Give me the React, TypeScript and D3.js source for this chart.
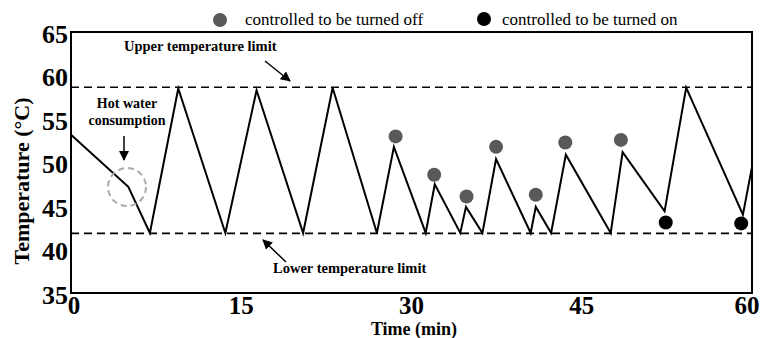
import React from "react";
import * as d3 from "d3";

// temperature trace (min, °C)
const times = [0, 5.05, 6.95, 9.45, 13.6, 16.35, 20.45, 23.05, 26.95, 28.45, 31.25, 32.05, 34.3, 34.8, 36.25, 37.45, 40.5, 40.95, 42.3, 43.6, 47.55, 48.6, 52.3, 54.2, 59.2, 60];
const temps = [53.2, 47.2, 41.9, 58.5, 41.9, 58.3, 41.9, 58.6, 41.9, 51.8, 41.9, 47.5, 41.9, 44.9, 41.9, 50.4, 41.9, 44.9, 41.9, 50.9, 41.9, 51.2, 44.4, 58.6, 44.0, 49.5];

// controlled to be turned off (gray) / on (black)
const offTimes = [28.6, 32.0, 34.85, 37.45, 40.95, 43.55, 48.45];
const offTemps = [53.0, 48.6, 46.1, 51.8, 46.3, 52.3, 52.6];
const onTimes = [52.4, 59.05];
const onTemps = [43.1, 43.0];

const upperLimit = 58.65;
const lowerLimit = 41.85;

const xTicks = [0, 15, 30, 45, 60];
const yTicks = [35, 40, 45, 50, 55, 60, 65];

const W = 764, H = 338;
const M = { left: 71, right: 12, top: 32, bottom: 45 };
const FONT = "'Liberation Serif', 'DejaVu Serif', serif";

export default function App() {
  const x = d3.scaleLinear().domain([0, 60]).range([M.left, W - M.right]);
  const y = d3.scaleLinear().domain([35, 65]).range([H - M.bottom, M.top]);

  const line = d3.line<number>().x((d, i) => x(times[i])).y(d => y(d));

  return (
    <svg width={W} height={H} style={{ position: "absolute", left: 0, top: 0, background: "#fff" }} fontFamily={FONT}>
      <defs>
        <marker id="arr" viewBox="0 0 10 10" refX="9" refY="5" markerWidth="10" markerHeight="10" markerUnits="userSpaceOnUse" orient="auto">
          <path d="M0,0 L10,5 L0,10 z" fill="#000" />
        </marker>
      </defs>

      {/* legend */}
      <circle cx={220} cy={20} r={7} fill="#595959" />
      <text x={245} y={25} fontSize={17}>controlled to be turned off</text>
      <circle cx={484} cy={19} r={7} fill="#000" />
      <text x={502} y={25} fontSize={17}>controlled to be turned on</text>

      {/* limits */}
      <line x1={x(0)} x2={x(60)} y1={y(upperLimit)} y2={y(upperLimit)} stroke="#000" strokeWidth={1.6} strokeDasharray="8,5" />
      <line x1={x(0)} x2={x(60)} y1={y(lowerLimit)} y2={y(lowerLimit)} stroke="#000" strokeWidth={1.6} strokeDasharray="8,5" />

      <path d={line(temps) || ""} fill="none" stroke="#000" strokeWidth={2} strokeLinejoin="miter" />

      {offTimes.map((t, i) => (
        <circle key={"off" + i} cx={x(t)} cy={y(offTemps[i])} r={7} fill="#595959" />
      ))}
      {onTimes.map((t, i) => (
        <circle key={"on" + i} cx={x(t)} cy={y(onTemps[i])} r={7} fill="#000" />
      ))}

      {/* frame */}
      <rect x={M.left} y={M.top} width={W - M.left - M.right} height={H - M.top - M.bottom} fill="none" stroke="#000" strokeWidth={2} />

      {/* ticks */}
      {yTicks.map(v => (
        <text key={"y" + v} x={68} y={y(v)} dy="0.42em" textAnchor="end" fontSize={26} fontWeight="bold">{v}</text>
      ))}
      {xTicks.map(v => (
        <text key={"x" + v} x={x(v) + (v === 0 ? 3 : v === 60 ? -5 : 0)} y={314} textAnchor="middle" fontSize={25} fontWeight="bold">{v}</text>
      ))}

      <text x={414} y={335} textAnchor="middle" fontSize={18} fontWeight="bold">Time (min)</text>
      <text transform={`translate(29,181) rotate(-90)`} textAnchor="middle" fontSize={22} fontWeight="bold">Temperature (°C)</text>

      {/* annotations */}
      <text x={124} y={51} fontSize={14.5} fontWeight="bold">Upper temperature limit</text>
      <line x1={265} y1={61} x2={290} y2={81} stroke="#000" strokeWidth={1.5} markerEnd="url(#arr)" />

      <text x={127} y={108} textAnchor="middle" fontSize={14} fontWeight="bold">Hot water</text>
      <text x={127} y={125} textAnchor="middle" fontSize={14} fontWeight="bold">consumption</text>
      <line x1={124} y1={136} x2={124} y2={160} stroke="#000" strokeWidth={1.5} markerEnd="url(#arr)" />
      <circle cx={127} cy={187} r={19} fill="none" stroke="#aaa" strokeWidth={2} strokeDasharray="6,4" />

      <text x={273} y={273} fontSize={14.5} fontWeight="bold">Lower temperature limit</text>
      <line x1={286} y1={262} x2={263} y2={240} stroke="#000" strokeWidth={1.5} markerEnd="url(#arr)" />
    </svg>
  );
}
